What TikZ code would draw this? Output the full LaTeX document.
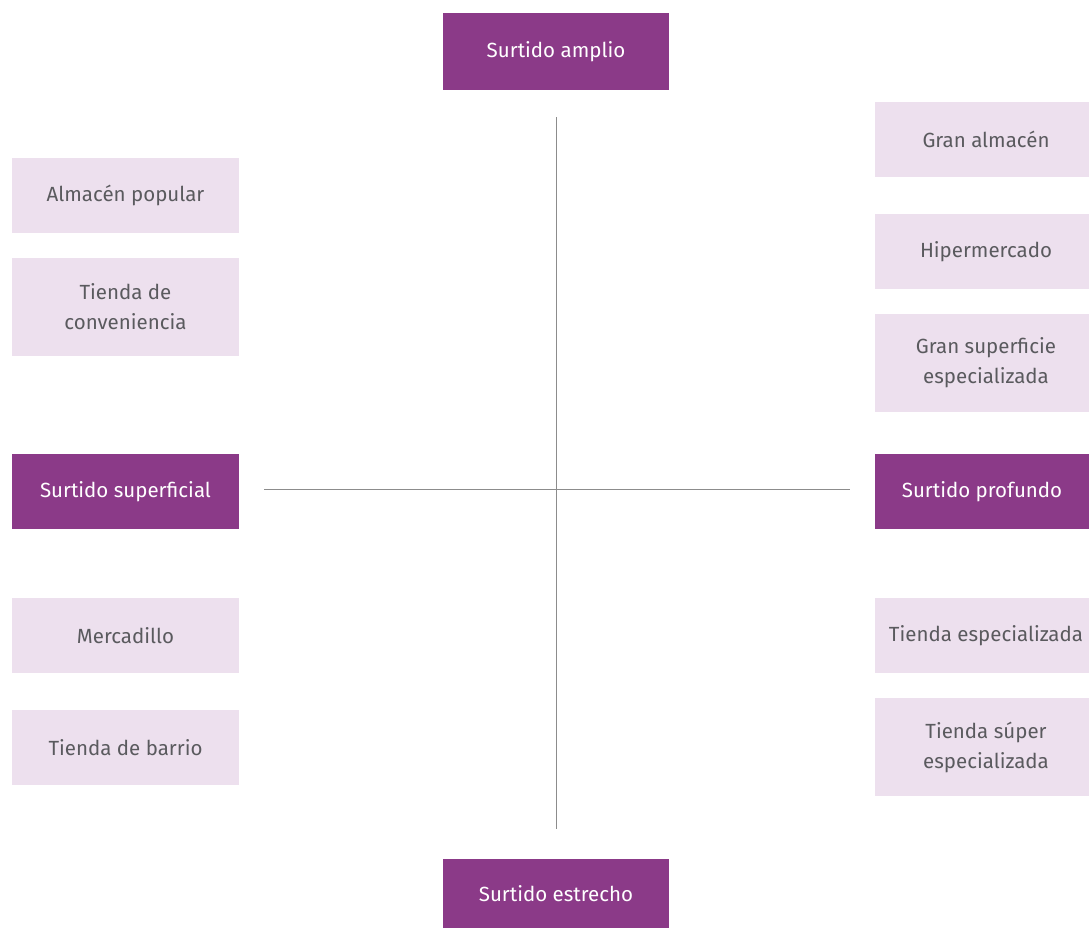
\documentclass[tikz,border=0pt]{standalone}
\usepackage{fontspec}
\setmainfont{Fira Sans}
\definecolor{morado}{HTML}{8B3A88}
\definecolor{lila}{HTML}{EDE0EE}
\definecolor{texto}{HTML}{5A5A5E}
\definecolor{eje}{HTML}{8C8C8C}

\begin{document}
\begin{tikzpicture}
            [x=1pt,y=-1pt,
             every node/.style={inner sep=0,align=center,font=\fontsize{20.5}{30}\selectfont},
             dark/.style={fill=morado,text=white,minimum width=226pt,minimum height=75pt},
             light/.style={fill=lila,text=texto,minimum width=227pt,minimum height=75pt},
             tall/.style={minimum height=98pt}]

            \useasboundingbox (0, 0) rectangle (1089, 929);

            % ejes
            \node (top) at (556, 51.5) [dark,minimum height=77pt] {Surtido amplio};
            \node (bot) at (556, 893.5) [dark,minimum height=69pt] {Surtido estrecho};
            \node (sup) at (125.5, 491.5) [dark,minimum width=227pt] {Surtido superficial};
            \node (pro) at (982, 491.5) [dark,minimum width=214pt] {Surtido profundo};

            \coordinate (n) at (556, 117);
            \coordinate (s) at (556, 829);
            \coordinate (w) at (264, 489);
            \coordinate (e) at (850, 489);
            \draw[eje, line width=1pt] (n) -- (s);
            \draw[eje, line width=1pt] (w) -- (e);

            % izquierda
            \node[light] (a1) at (125.5, 195.5) {Almacén popular};
            \node[light,tall] (a2) at (125.5, 307) {Tienda de\\conveniencia};
            \node[light] (a3) at (125.5, 635.5) {Mercadillo};
            \node[light] (a4) at (125.5, 747.5) {Tienda de barrio};

            % derecha
            \node[light,minimum width=214pt] (b1) at (982, 139.5) {\hspace{8pt}Gran almacén};
            \node[light,minimum width=214pt] (b2) at (982, 251.5) {\hspace{8pt}Hipermercado};
            \node[light,minimum width=214pt,tall] (b3) at (982, 363) {\hspace{8pt}Gran superficie\\\hspace{8pt}especializada};
            \node[light,minimum width=214pt] (b4) at (982, 635.5) {\hspace{8pt}Tienda especializada};
            \node[light,minimum width=214pt,tall] (b5) at (982, 747) {\hspace{8pt}Tienda súper\\\hspace{8pt}especializada};
          \end{tikzpicture}
\end{document}
